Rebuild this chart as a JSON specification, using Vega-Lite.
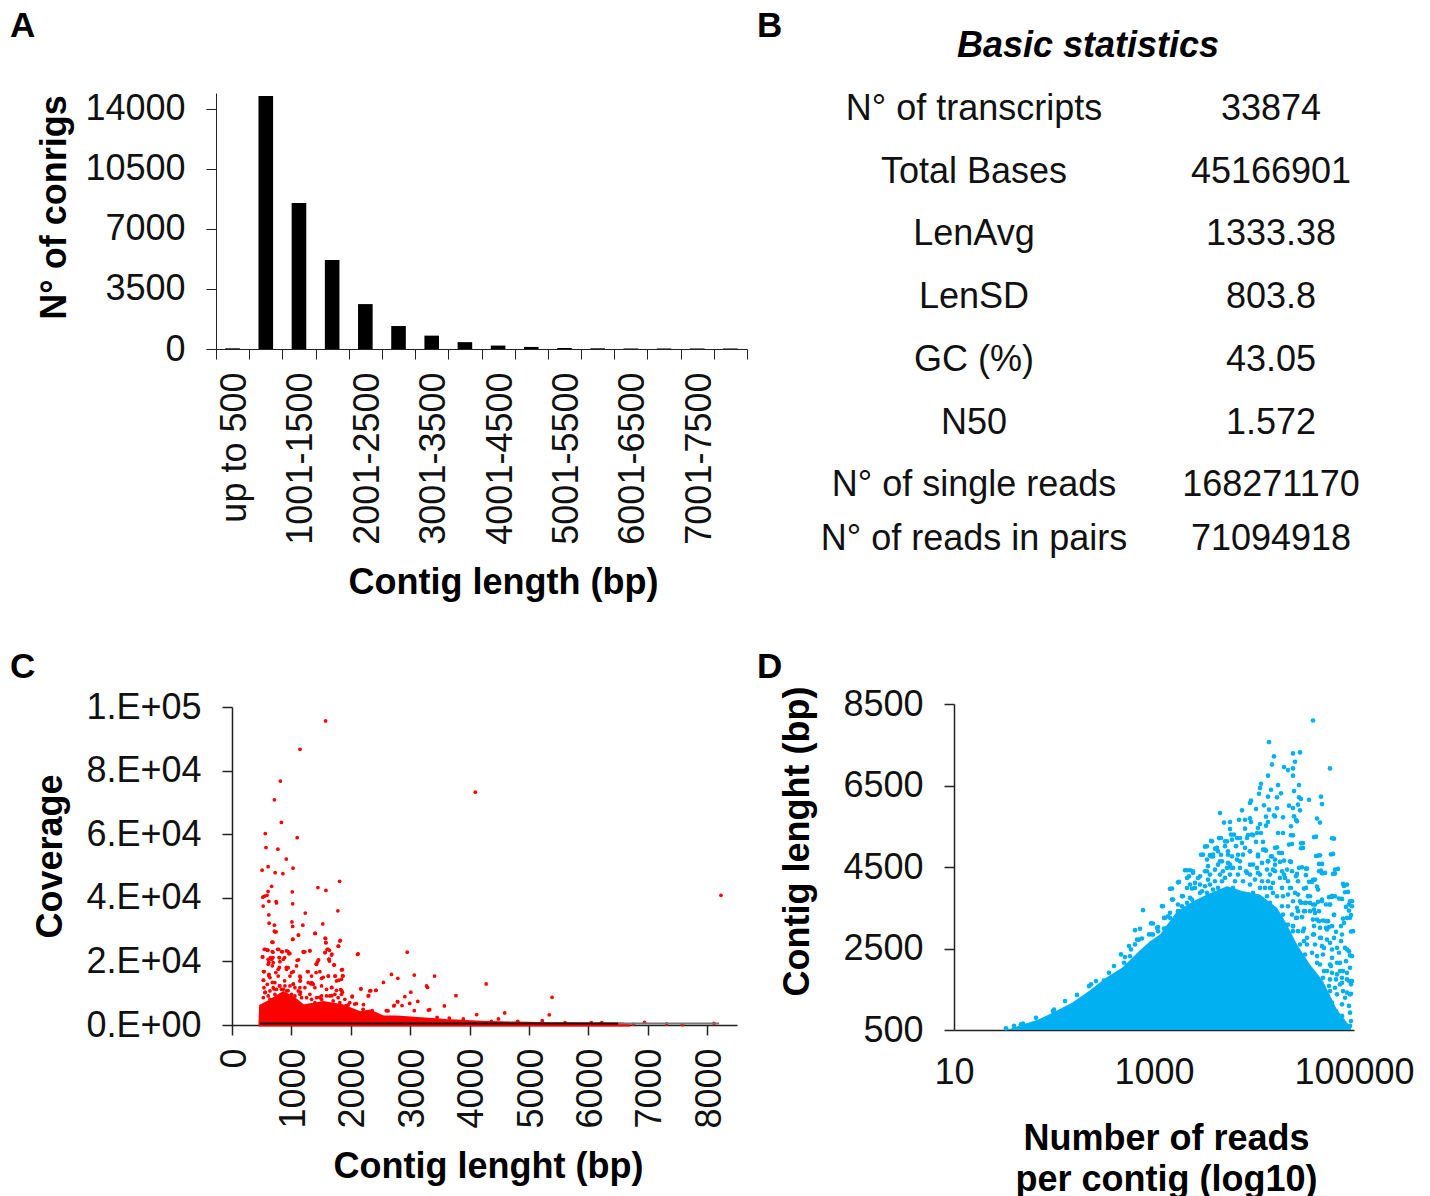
{"$schema":"https://vega.github.io/schema/vega-lite/v6.json","background":"white","padding":{"left":10,"top":8,"right":0,"bottom":0},"bounds":"flush","columns":2,"spacing":{"row":355,"column":13},"config":{"view":{"stroke":null},"font":"Liberation Sans","text":{"font":"Liberation Sans"},"title":{"font":"Liberation Sans","fontSize":35,"fontWeight":"bold","anchor":"start","frame":"group","color":"#000"},"axis":{"grid":false,"labelFont":"Liberation Sans","labelFontSize":36,"labelColor":"#111","titleFont":"Liberation Sans","titleFontSize":36,"titleFontWeight":"bold","titleColor":"#000","domainColor":"#222","tickColor":"#222","tickSize":10,"domainWidth":1.5,"tickWidth":1.5,"titleBaseline":"middle","labelOverlap":false,"labelPadding":21,"labelFlush":false}},
"datasets":{
"coreC":[{"l":470,"c":0},{"l":482,"c":5983},{"l":639,"c":7555},{"l":863,"c":10175},{"l":1031,"c":8600},{"l":1199,"c":5983},{"l":1535,"c":7030},{"l":1871,"c":5983},{"l":2151,"c":3887},{"l":2319,"c":4411},{"l":2543,"c":2525},{"l":2767,"c":2525},{"l":3009,"c":2200},{"l":3599,"c":1400},{"l":4189,"c":900},{"l":4779,"c":600},{"l":5369,"c":400},{"l":6549,"c":300},{"l":6700,"c":0}],
"coreD":[{"r":1.52,"l":500},{"r":1.85,"l":761},{"r":2.02,"l":965},{"r":2.18,"l":1170},{"r":2.35,"l":1455},{"r":2.52,"l":1782},{"r":2.68,"l":2027},{"r":2.85,"l":2435},{"r":2.96,"l":2680},{"r":3.06,"l":2843},{"r":3.23,"l":3415},{"r":3.39,"l":3660},{"r":3.53,"l":3823},{"r":3.73,"l":4027},{"r":3.89,"l":3905},{"r":4.06,"l":3823},{"r":4.23,"l":3497},{"r":4.33,"l":3088},{"r":4.43,"l":2598},{"r":4.56,"l":2108},{"r":4.69,"l":1700},{"r":4.83,"l":1000},{"r":4.97,"l":557}],
"pointsC":[{"l":1575,"c":95600},{"l":1145,"c":86700},{"l":814,"c":76700},{"l":714,"c":70800},{"l":4095,"c":73200},{"l":832,"c":63700},{"l":560,"c":60200},{"l":1097,"c":58900},{"l":572,"c":55800},{"l":773,"c":55300},{"l":914,"c":52200},{"l":1027,"c":49300},{"l":608,"c":49800},{"l":507,"c":48700},{"l":726,"c":47900},{"l":856,"c":47600},{"l":1811,"c":45200},{"l":667,"c":43600},{"l":1446,"c":43200},{"l":608,"c":42000},{"l":1581,"c":42300},{"l":1015,"c":41900},{"l":8230,"c":40800},{"l":590,"c":40800},{"l":549,"c":40500},{"l":519,"c":40200},{"l":620,"c":38900},{"l":743,"c":38800},{"l":749,"c":38400},{"l":1021,"c":38100},{"l":525,"c":37400},{"l":1782,"c":35900},{"l":1233,"c":35200},{"l":620,"c":34600},{"l":625,"c":32000},{"l":1009,"c":32400},{"l":1528,"c":31800},{"l":1021,"c":31000},{"l":1192,"c":31400},{"l":714,"c":31400},{"l":714,"c":29500},{"l":743,"c":29300},{"l":1404,"c":28800},{"l":1121,"c":28300},{"l":1027,"c":27000},{"l":1575,"c":27200},{"l":1581,"c":25900},{"l":1823,"c":26600},{"l":673,"c":26100},{"l":690,"c":26000},{"l":1794,"c":24800},{"l":2124,"c":22400},{"l":2950,"c":22900},{"l":2684,"c":15900},{"l":3068,"c":15700},{"l":3410,"c":15400},{"l":2791,"c":14700},{"l":2549,"c":13400},{"l":4278,"c":12900},{"l":3275,"c":12300},{"l":3292,"c":11800},{"l":2171,"c":11300},{"l":2336,"c":10800},{"l":2425,"c":10900},{"l":3009,"c":10300},{"l":2301,"c":9200},{"l":2024,"c":9100},{"l":2909,"c":8900},{"l":3770,"c":9200},{"l":5387,"c":8700},{"l":3127,"c":7400},{"l":2791,"c":7300},{"l":2991,"c":6800},{"l":2732,"c":6200},{"l":3575,"c":6000},{"l":3328,"c":4800},{"l":5340,"c":3200},{"l":4590,"c":3800},{"l":4118,"c":3300},{"l":560,"c":23800},{"l":602,"c":23600},{"l":785,"c":23800},{"l":690,"c":22900},{"l":850,"c":23000},{"l":944,"c":23100},{"l":974,"c":22500},{"l":1204,"c":22900},{"l":1227,"c":23000},{"l":1310,"c":23400},{"l":1617,"c":23800},{"l":1569,"c":22800},{"l":1682,"c":22300},{"l":1640,"c":23500},{"l":519,"c":21400},{"l":649,"c":21200},{"l":690,"c":21200},{"l":797,"c":21200},{"l":885,"c":21200},{"l":1121,"c":20500},{"l":1457,"c":20500},{"l":1634,"c":20700},{"l":1640,"c":20100},{"l":1723,"c":18900},{"l":1859,"c":17400},{"l":1434,"c":19700},{"l":1416,"c":19100},{"l":620,"c":19700},{"l":679,"c":18600},{"l":797,"c":18100},{"l":915,"c":18100},{"l":1003,"c":16500},{"l":1151,"c":15000},{"l":1269,"c":16800},{"l":1416,"c":16500},{"l":1623,"c":15400},{"l":1741,"c":15400},{"l":1859,"c":15500},{"l":531,"c":16800},{"l":620,"c":15500},{"l":738,"c":16500},{"l":885,"c":13900},{"l":1033,"c":12900},{"l":1357,"c":13100},{"l":1534,"c":15000},{"l":1800,"c":14100},{"l":531,"c":14100},{"l":679,"c":13400},{"l":797,"c":12300},{"l":1151,"c":13900},{"l":1328,"c":12900},{"l":1682,"c":11800},{"l":1829,"c":11100},{"l":560,"c":10300},{"l":708,"c":11300},{"l":944,"c":10800},{"l":1151,"c":10300},{"l":1475,"c":8700},{"l":1682,"c":9200},{"l":1859,"c":10300},{"l":1918,"c":6100},{"l":2065,"c":6600},{"l":2213,"c":6400},{"l":2360,"c":4500},{"l":2596,"c":4500},{"l":2862,"c":6100},{"l":3068,"c":4500},{"l":3304,"c":4700},{"l":3452,"c":2400},{"l":3658,"c":2200},{"l":3894,"c":1900},{"l":4366,"c":1150},{"l":4484,"c":1900},{"l":4809,"c":1150},{"l":5222,"c":1350},{"l":5605,"c":730},{"l":6048,"c":730},{"l":6225,"c":730},{"l":6944,"c":840},{"l":6756,"c":200},{"l":7316,"c":300},{"l":7581,"c":100},{"l":8113,"c":500},
{"l":510,"c":21400},{"l":543,"c":23800},{"l":599,"c":23500},{"l":678,"c":23100},{"l":678,"c":26100},{"l":722,"c":29250},{"l":767,"c":23800},{"l":834,"c":23100},{"l":918,"c":23300},{"l":958,"c":22400},{"l":1020,"c":26900},{"l":1115,"c":28300},{"l":1395,"c":28800},{"l":1568,"c":27300},{"l":1579,"c":25900},{"l":1815,"c":26400},{"l":1787,"c":24800},{"l":1602,"c":23800},{"l":1563,"c":22750},{"l":1675,"c":22000},{"l":1199,"c":23100},{"l":1311,"c":23300},{"l":2112,"c":22200},{"l":610,"c":20650},{"l":666,"c":20650},{"l":795,"c":21200},{"l":863,"c":20650},{"l":1098,"c":20340},{"l":610,"c":19080},{"l":694,"c":19600},{"l":806,"c":19920},{"l":1087,"c":18560},{"l":946,"c":18030},{"l":1451,"c":20340},{"l":1423,"c":19080},{"l":1630,"c":20650},{"l":1714,"c":18870},{"l":1843,"c":17300},{"l":543,"c":16780},{"l":622,"c":15940},{"l":778,"c":17500},{"l":918,"c":17500},{"l":1031,"c":16780},{"l":1283,"c":16780},{"l":1479,"c":16780},{"l":1871,"c":15400},{"l":1731,"c":15400},{"l":1619,"c":15400},{"l":1339,"c":15400},{"l":1143,"c":15400},{"l":975,"c":15400},{"l":639,"c":14900},{"l":778,"c":15400},{"l":527,"c":14050},{"l":722,"c":13320},{"l":1143,"c":13840},{"l":891,"c":12270},{"l":1031,"c":12800},{"l":1339,"c":13320},{"l":1507,"c":14680},{"l":1759,"c":13840},{"l":1843,"c":14370},{"l":554,"c":10170},{"l":639,"c":10700},{"l":750,"c":11220},{"l":918,"c":10700},{"l":1115,"c":10700},{"l":1227,"c":11750},{"l":1367,"c":12800},{"l":1675,"c":11750},{"l":1759,"c":10910},{"l":1843,"c":10910},{"l":2168,"c":11430},{"l":2319,"c":10700},{"l":2420,"c":10910},{"l":2291,"c":9130},{"l":2022,"c":8810},{"l":1255,"c":8600},{"l":1423,"c":8600},{"l":1591,"c":9130},{"l":1731,"c":9650},{"l":1843,"c":9650},{"l":2784,"c":7340},{"l":2722,"c":5980},{"l":2627,"c":4410},{"l":2095,"c":6720},{"l":2207,"c":4930},{"l":1955,"c":6300},{"l":1143,"c":9650},{"l":1003,"c":9650},
{"l":538,"c":11750},{"l":594,"c":12800},{"l":694,"c":11750},{"l":806,"c":12270},{"l":863,"c":11220},{"l":975,"c":12270},{"l":1059,"c":11750},{"l":1143,"c":11750},{"l":1283,"c":13320},{"l":1395,"c":11750},{"l":1507,"c":12270},{"l":1591,"c":11220},{"l":527,"c":8600},{"l":610,"c":9130},{"l":722,"c":9650},{"l":834,"c":11220},{"l":918,"c":9130},{"l":1059,"c":9130},{"l":1171,"c":8600},{"l":1311,"c":9650},{"l":1507,"c":9130},{"l":1647,"c":9130},{"l":1787,"c":8600},{"l":1899,"c":8080},{"l":639,"c":8080},{"l":806,"c":8080},{"l":1339,"c":8080},{"l":1507,"c":8080},{"l":1703,"c":7550},{"l":1983,"c":7030},{"l":1815,"c":7030},{"l":1395,"c":7030}],
"pointsD":[{"r":4.59,"l":8095},{"r":4.15,"l":7565},{"r":4.20,"l":7213},{"r":4.18,"l":7017},{"r":4.39,"l":7287},{"r":4.46,"l":7311},{"r":4.41,"l":7083},{"r":4.30,"l":6952},{"r":4.34,"l":6878},{"r":4.39,"l":6919},{"r":4.39,"l":6740},{"r":4.14,"l":6740},{"r":4.76,"l":6919},{"r":4.07,"l":6543},{"r":4.06,"l":6437},{"r":4.24,"l":6511},{"r":4.45,"l":6511},{"r":4.17,"l":6396},{"r":4.05,"l":6298},{"r":4.27,"l":6307},{"r":4.40,"l":6364},{"r":4.14,"l":6225},{"r":4.23,"l":6209},{"r":4.45,"l":6209},{"r":4.47,"l":6168},{"r":4.55,"l":6151},{"r":4.67,"l":6225},{"r":4.68,"l":6045},{"r":3.97,"l":6127},{"r":3.96,"l":6070},{"r":4.10,"l":6013},{"r":4.44,"l":6029},{"r":4.35,"l":6004},{"r":4.39,"l":5947},{"r":4.46,"l":5890},{"r":3.88,"l":5890},{"r":4.02,"l":5923},{"r":4.15,"l":5907},{"r":4.23,"l":5939},{"r":3.66,"l":5825},{"r":4.20,"l":5770},{"r":4.21,"l":5740},{"r":4.12,"l":5735},{"r":4.29,"l":5720},{"r":4.40,"l":5745},{"r":4.42,"l":5660},{"r":4.63,"l":5690},{"r":4.66,"l":5590},{"r":3.85,"l":5660},{"r":3.91,"l":5660},{"r":3.96,"l":5695},{"r":3.97,"l":5605},{"r":3.70,"l":5590},{"r":3.76,"l":5605},{"r":4.43,"l":5620},{"r":4.14,"l":5605},{"r":4.12,"l":5515},{"r":4.06,"l":5555},{"r":4.37,"l":5500},{"r":3.76,"l":5430},{"r":4.04,"l":5455},{"r":3.91,"l":5440},{"r":4.07,"l":5335},{"r":4.24,"l":5335},{"r":4.29,"l":5335},{"r":4.37,"l":5280},{"r":4.60,"l":5235},{"r":4.78,"l":5205},{"r":3.94,"l":5280},{"r":3.99,"l":5280},{"r":3.77,"l":5295},{"r":3.65,"l":5210},{"r":3.57,"l":5140},{"r":3.71,"l":5130},{"r":3.83,"l":5210},{"r":3.88,"l":5090},{"r":4.02,"l":5115},{"r":4.09,"l":5115},{"r":4.47,"l":5080},{"r":4.47,"l":4960},{"r":4.35,"l":5050},{"r":3.51,"l":5000},{"r":3.61,"l":4950},{"r":3.71,"l":5010},{"r":3.82,"l":5010},{"r":3.91,"l":4970},{"r":4.09,"l":4925},{"r":4.12,"l":4900},{"r":4.21,"l":4970},{"r":3.47,"l":4800},{"r":3.56,"l":4790},{"r":3.59,"l":4760},{"r":3.67,"l":4800},{"r":3.74,"l":4800},{"r":3.84,"l":4800},{"r":3.96,"l":4885},{"r":4.04,"l":4760},{"r":4.17,"l":4760},{"r":4.25,"l":4850},{"r":4.62,"l":4770},{"r":4.64,"l":4780},{"r":4.77,"l":4810},{"r":3.66,"l":4640},{"r":3.74,"l":4600},{"r":3.86,"l":4640},{"r":3.99,"l":4560},{"r":4.14,"l":4640},{"r":4.30,"l":4655},{"r":4.37,"l":4625},{"r":4.65,"l":4575},{"r":3.54,"l":4520},{"r":3.61,"l":4435},{"r":3.31,"l":4420},{"r":3.36,"l":4420},{"r":3.39,"l":4355},{"r":3.51,"l":4395},{"r":3.77,"l":4480},{"r":3.92,"l":4395},{"r":4.04,"l":4355},{"r":4.19,"l":4435},{"r":4.45,"l":4480},{"r":4.52,"l":4460},{"r":4.65,"l":4395},{"r":4.68,"l":4345},{"r":4.81,"l":4435},{"r":4.79,"l":4330},{"r":4.42,"l":4275},{"r":4.52,"l":4300},{"r":4.59,"l":4185},{"r":4.30,"l":4315},{"r":3.24,"l":4125},{"r":3.33,"l":4230},{"r":3.44,"l":4230},{"r":3.41,"l":4110},{"r":3.54,"l":4190},{"r":4.55,"l":4135},{"r":4.63,"l":4020},{"r":4.89,"l":4085},{"r":4.90,"l":4035},{"r":3.16,"l":3965},{"r":3.33,"l":3985},{"r":3.38,"l":3970},{"r":3.48,"l":3905},{"r":4.17,"l":3985},{"r":4.37,"l":3985},{"r":4.50,"l":3970},{"r":4.91,"l":3880},{"r":3.18,"l":3700},{"r":3.28,"l":3785},{"r":3.36,"l":3740},{"r":4.54,"l":3785},{"r":4.68,"l":3700},{"r":4.75,"l":3760},{"r":4.78,"l":3790},{"r":4.85,"l":3725},{"r":4.96,"l":3660},{"r":4.47,"l":3620},{"r":4.52,"l":3620},{"r":4.59,"l":3580},{"r":4.64,"l":3645},{"r":4.72,"l":3580},{"r":4.76,"l":3580},{"r":4.95,"l":3580},{"r":4.92,"l":3520},{"r":2.89,"l":3440},{"r":3.08,"l":3540},{"r":3.10,"l":3250},{"r":3.14,"l":3290},{"r":4.44,"l":3415},{"r":4.50,"l":3415},{"r":4.60,"l":3455},{"r":4.65,"l":3415},{"r":4.80,"l":3320},{"r":4.97,"l":3320},{"r":4.93,"l":3250},{"r":4.59,"l":3210},{"r":4.65,"l":3170},{"r":4.72,"l":3170},{"r":4.87,"l":3050},{"r":4.90,"l":3130},{"r":2.97,"l":3115},{"r":4.42,"l":3250},{"r":4.39,"l":3050},{"r":4.50,"l":2990},{"r":4.60,"l":3050},{"r":4.72,"l":3005},{"r":4.75,"l":3025},{"r":4.82,"l":2910},{"r":4.97,"l":2915},{"r":2.81,"l":2950},{"r":2.86,"l":2985},{"r":3.04,"l":3025},{"r":3.10,"l":2990},{"r":4.60,"l":2845},{"r":4.67,"l":2760},{"r":4.73,"l":2720},{"r":4.80,"l":2760},{"r":4.87,"l":2680},{"r":4.91,"l":2515},{"r":4.95,"l":2435},{"r":2.95,"l":2845},{"r":2.88,"l":2745},{"r":2.83,"l":2720},{"r":4.50,"l":2680},{"r":2.75,"l":2560},{"r":2.77,"l":2475},{"r":2.81,"l":2600},{"r":2.67,"l":2355},{"r":2.71,"l":2290},{"r":2.76,"l":2310},{"r":2.60,"l":2070},{"r":2.70,"l":2150},{"r":4.70,"l":2515},{"r":4.78,"l":2475},{"r":4.85,"l":2395},{"r":4.96,"l":2330},{"r":4.92,"l":2190},{"r":4.83,"l":2150},{"r":4.77,"l":2070},{"r":4.70,"l":1945},{"r":4.89,"l":1945},{"r":4.95,"l":1700},{"r":4.88,"l":1660},{"r":4.82,"l":1740},{"r":4.75,"l":1580},{"r":4.97,"l":1620},{"r":4.93,"l":1415},{"r":4.97,"l":1390},{"r":4.83,"l":1375},{"r":4.72,"l":1290},{"r":4.78,"l":1170},{"r":4.88,"l":1130},{"r":4.95,"l":1090},{"r":4.70,"l":1005},{"r":4.82,"l":965},{"r":4.96,"l":925},{"r":4.88,"l":845},{"r":4.62,"l":845},{"r":4.73,"l":760},{"r":4.57,"l":720},{"r":4.97,"l":720},{"r":4.67,"l":640},{"r":4.87,"l":575},{"r":4.96,"l":600},{"r":4.50,"l":640},{"r":4.45,"l":560},{"r":1.52,"l":540},{"r":1.60,"l":600},{"r":1.67,"l":640},{"r":1.82,"l":800},{"r":1.99,"l":965},{"r":2.11,"l":1210},{"r":2.23,"l":1360},{"r":2.37,"l":1620},{"r":2.50,"l":1715},
{"r":2.99,"l":3113},{"r":3.09,"l":3537},{"r":3.18,"l":3970},{"r":3.25,"l":4134},{"r":3.19,"l":3701},{"r":3.33,"l":4420},{"r":3.39,"l":4395},{"r":3.35,"l":4272},{"r":3.36,"l":4068},{"r":3.29,"l":3782},{"r":3.41,"l":3987},{"r":3.38,"l":3701},{"r":3.49,"l":4803},{"r":3.53,"l":5007},{"r":3.58,"l":5130},{"r":3.67,"l":5212},{"r":3.57,"l":4762},{"r":3.53,"l":4681},{"r":3.59,"l":4803},{"r":3.63,"l":4967},{"r":3.64,"l":4885},{"r":3.68,"l":4640},{"r":3.64,"l":4558},{"r":3.53,"l":4395},{"r":3.46,"l":4272},{"r":3.56,"l":4313},{"r":3.51,"l":4027},{"r":3.61,"l":4150},{"r":3.66,"l":4313},{"r":3.73,"l":5130},{"r":3.78,"l":5171},{"r":3.74,"l":4885},{"r":3.80,"l":5293},{"r":3.86,"l":5212},{"r":3.93,"l":5212},{"r":3.98,"l":5293},{"r":4.03,"l":5334},{"r":3.78,"l":4762},{"r":3.76,"l":4558},{"r":3.83,"l":4681},{"r":3.89,"l":4803},{"r":3.96,"l":4885},{"r":4.04,"l":4803},{"r":4.11,"l":4926},{"r":4.18,"l":4762},{"r":4.21,"l":4681},{"r":4.28,"l":4844},{"r":4.23,"l":4983},{"r":4.38,"l":5065},{"r":4.39,"l":5277},{"r":4.49,"l":5089},{"r":4.49,"l":4967},{"r":4.62,"l":5244},{"r":4.80,"l":5195},{"r":4.79,"l":4820},{"r":4.66,"l":4787},{"r":4.68,"l":4575},{"r":4.67,"l":4411},{"r":4.71,"l":4354},{"r":4.81,"l":4338},{"r":4.84,"l":4452},{"r":4.93,"l":4068},{"r":4.94,"l":3889},{"r":4.98,"l":3660},{"r":4.98,"l":3537},{"r":4.95,"l":3431},{"r":4.89,"l":3235},{"r":4.88,"l":3717},{"r":4.81,"l":3782},{"r":4.78,"l":3766},{"r":4.76,"l":3578},{"r":4.68,"l":3660},{"r":4.61,"l":3578},{"r":4.56,"l":3619},{"r":4.46,"l":3660},{"r":4.51,"l":3619},{"r":4.56,"l":3782},{"r":4.64,"l":3946},{"r":4.61,"l":4191},{"r":4.58,"l":4134},{"r":4.53,"l":4460},{"r":4.48,"l":4493},{"r":4.43,"l":4330},{"r":4.36,"l":4640},{"r":4.26,"l":4624},{"r":4.34,"l":4150},{"r":4.44,"l":4150},{"r":4.52,"l":3987},{"r":4.41,"l":3864},{"r":4.44,"l":3823},{"r":4.36,"l":3987},{"r":4.28,"l":3987},{"r":4.19,"l":3864},{"r":4.11,"l":3987},{"r":4.03,"l":3660},{"r":3.96,"l":3456},{"r":4.16,"l":3619},{"r":3.89,"l":3578},{"r":3.84,"l":3578},{"r":3.79,"l":3987},{"r":3.71,"l":4232},{"r":3.96,"l":4313},{"r":4.06,"l":4313},{"r":4.13,"l":4436},{"r":4.21,"l":4395},{"r":3.86,"l":4477},{"r":3.93,"l":4354},{"r":4.51,"l":3415},{"r":4.56,"l":3415},{"r":4.63,"l":3211},{"r":4.69,"l":3186},{"r":4.74,"l":3170},{"r":4.80,"l":3333},{"r":4.88,"l":2843},{"r":4.99,"l":2925},{"r":4.96,"l":3252},{"r":4.43,"l":3252},{"r":4.48,"l":3268},{"r":4.61,"l":3374},{"r":4.66,"l":3007},{"r":4.73,"l":2966},{"r":4.78,"l":3048},{"r":4.59,"l":2843},{"r":4.66,"l":2762},{"r":4.76,"l":2639},{"r":4.83,"l":2517},{"r":4.93,"l":2476},{"r":4.98,"l":2312},{"r":4.53,"l":2598},{"r":4.58,"l":2394},{"r":4.69,"l":2353},{"r":4.78,"l":2272},{"r":4.86,"l":2149},{"r":4.96,"l":2027},{"r":4.63,"l":2149},{"r":4.73,"l":1945},{"r":4.83,"l":1863},{"r":4.93,"l":1904},{"r":4.98,"l":1700},{"r":4.76,"l":1741},{"r":4.86,"l":1618},{"r":4.96,"l":1373},{"r":4.89,"l":1455},{"r":4.39,"l":2925},{"r":4.49,"l":2925},
{"r":3.46,"l":4068},{"r":3.56,"l":4068},{"r":3.64,"l":3987},{"r":3.68,"l":4150},{"r":3.76,"l":4313},{"r":3.81,"l":4150},{"r":3.84,"l":4313},{"r":3.89,"l":4150},{"r":3.96,"l":4068},{"r":4.01,"l":4191},{"r":4.08,"l":4150},{"r":4.14,"l":4150},{"r":4.19,"l":4109},{"r":4.26,"l":4232},{"r":4.31,"l":4232},{"r":4.33,"l":4436},{"r":4.38,"l":4395},{"r":4.16,"l":4313},{"r":4.03,"l":4477},{"r":3.96,"l":4558},{"r":3.79,"l":4477},{"r":3.73,"l":4477},{"r":3.69,"l":4395},{"r":4.08,"l":4599},{"r":4.14,"l":4640},{"r":4.21,"l":4558},{"r":4.28,"l":4395},{"r":3.46,"l":3864},{"r":3.53,"l":3864},{"r":3.59,"l":3946},{"r":3.64,"l":3782},{"r":3.81,"l":3782},{"r":3.88,"l":3782},{"r":3.94,"l":3823},{"r":3.99,"l":3864},{"r":4.06,"l":3987},{"r":4.16,"l":3987},{"r":4.23,"l":3782},{"r":4.29,"l":3782},{"r":4.34,"l":3823},{"r":4.39,"l":3660},{"r":4.43,"l":3497},{"r":4.34,"l":3537},{"r":4.28,"l":3537},{"r":4.23,"l":3333},{"r":4.29,"l":3333},{"r":4.38,"l":3333},{"r":3.33,"l":3619},{"r":3.28,"l":3537},{"r":3.24,"l":3415},{"r":3.16,"l":3252},{"r":3.11,"l":3252},{"r":3.13,"l":3007},{"r":3.04,"l":2925},{"r":2.99,"l":2843},{"r":3.03,"l":3007},{"r":4.13,"l":3782},{"r":4.09,"l":3619},{"r":3.98,"l":3660},{"r":4.34,"l":3088},{"r":4.39,"l":3048},{"r":4.44,"l":2925},{"r":4.53,"l":2762},{"r":4.46,"l":2598},{"r":4.61,"l":2598},{"r":4.68,"l":2557},{"r":4.51,"l":2353},{"r":4.63,"l":2313},{"r":4.66,"l":2108},{"r":4.76,"l":2108},{"r":4.86,"l":1945},{"r":4.78,"l":1904},{"r":4.69,"l":1782},{"r":4.88,"l":1782},{"r":4.93,"l":1741},{"r":4.81,"l":1537},{"r":4.91,"l":1292},{"r":4.76,"l":1455},
{"r":2.35,"l":1578},{"r":2.42,"l":1700},{"r":2.00,"l":1000},{"r":1.69,"l":660},{"r":2.55,"l":1905},{"r":2.85,"l":2720},{"r":2.98,"l":2845},{"r":3.16,"l":3375},{"r":3.24,"l":3580}]
},
"concat":[
{"width":531,"height":256,"title":{"text":"A","dx":-206,"offset":47},
"data":{"values":[{"bin":"up to 500","n":40},{"bin":"501-1000","n":14760},{"bin":"1001-1500","n":8517},{"bin":"1501-2000","n":5190},{"bin":"2001-2500","n":2620},{"bin":"2501-3000","n":1340},{"bin":"3001-3500","n":780},{"bin":"3501-4000","n":400},{"bin":"4001-4500","n":200},{"bin":"4501-5000","n":120},{"bin":"5001-5500","n":60},{"bin":"5501-6000","n":40},{"bin":"6001-6500","n":30},{"bin":"6501-7000","n":30},{"bin":"7001-7500","n":30},{"bin":"7501-8000","n":30}]},
"mark":{"type":"bar","color":"#000","width":{"band":0.44}},
"encoding":{"x":{"field":"bin","type":"nominal","sort":null,"scale":{"paddingInner":0,"paddingOuter":0},"axis":{"title":"Contig length (bp)","titleX":287,"titleY":233,"labelAngle":-90,"labelAlign":"right","labelBaseline":"middle","labelPadding":13,"labelOffset":2,"tickBand":"extent","domainWidth":1,"tickWidth":1,"labelExpr":"indexof(['up to 500','1001-1500','2001-2500','3001-3500','4001-4500','5001-5500','6001-6500','7001-7500'],datum.label)>=0?datum.label:''"}},
"y":{"field":"n","type":"quantitative","scale":{"domain":[0,14933],"nice":false},"axis":{"title":"N° of conrigs","titleX":-162,"titleY":114,"values":[0,3500,7000,10500,14000],"domainWidth":1,"tickWidth":1,"format":"d"}}}},
{"width":660,"height":256,"title":{"text":"B","dx":-3,"offset":-16},
"layer":[
{"data":{"values":[{"stat":"N° of transcripts","col":"Parameter","txt":"N° of transcripts"},{"stat":"N° of transcripts","col":"Value","txt":"33874"},{"stat":"Total Bases","col":"Parameter","txt":"Total Bases"},{"stat":"Total Bases","col":"Value","txt":"45166901"},{"stat":"LenAvg","col":"Parameter","txt":"LenAvg"},{"stat":"LenAvg","col":"Value","txt":"1333.38"},{"stat":"LenSD","col":"Parameter","txt":"LenSD"},{"stat":"LenSD","col":"Value","txt":"803.8"},{"stat":"GC (%)","col":"Parameter","txt":"GC (%)"},{"stat":"GC (%)","col":"Value","txt":"43.05"},{"stat":"N50","col":"Parameter","txt":"N50"},{"stat":"N50","col":"Value","txt":"1.572"},{"stat":"N° of single reads","col":"Parameter","txt":"N° of single reads"},{"stat":"N° of single reads","col":"Value","txt":"168271170"}]},
"mark":{"type":"text","fontSize":36,"baseline":"middle","align":"center","color":"#111"},
"encoding":{"x":{"field":"col","type":"nominal","axis":null,"scale":{"type":"point","domain":["Parameter","Value"],"range":[214,511],"padding":0}},
"y":{"field":"stat","type":"nominal","axis":null,"scale":{"type":"point","domain":["Basic statistics","N° of transcripts","Total Bases","LenAvg","LenSD","GC (%)","N50","N° of single reads","N° of reads in pairs"],"range":[-47,455],"padding":0}},
"text":{"field":"txt"}}},
{"data":{"values":[{"stat":"N° of reads in pairs","col":"Parameter","txt":"N° of reads in pairs"},{"stat":"N° of reads in pairs","col":"Value","txt":"71094918"}]},
"mark":{"type":"text","fontSize":36,"baseline":"middle","align":"center","color":"#111","dy":-9},
"encoding":{"x":{"field":"col","type":"nominal","axis":null},"y":{"field":"stat","type":"nominal","axis":null},"text":{"field":"txt"}}},
{"data":{"values":[{"stat":"Basic statistics","txt":"Basic statistics"}]},
"mark":{"type":"text","fontSize":36,"fontWeight":"bold","fontStyle":"italic","baseline":"middle","align":"center","color":"#000","dx":-2},
"encoding":{"y":{"field":"stat","type":"nominal","axis":null},"text":{"field":"txt"}}}
]},
{"width":531,"height":326,"title":{"text":"C","dx":-206,"offset":4},
"layer":[
{"data":{"name":"coreC"},"mark":{"type":"area","color":"#ff0000","stroke":"#ff0000","strokeWidth":3},
"encoding":{"x":{"field":"l","type":"quantitative","scale":{"domain":[0,8500],"nice":false,"range":[16,521]},"axis":{"title":"Contig lenght (bp)","titleX":272,"titleY":141,"offset":-5,"values":[0,1000,2000,3000,4000,5000,6000,7000,8000],"labelAngle":-90,"labelAlign":"right","labelBaseline":"middle","labelPadding":13,"labelOffset":2,"format":"d"}},
"y":{"field":"c","type":"quantitative","scale":{"domain":[0,100000],"nice":false,"range":[321,3]},"axis":{"title":"Coverage","titleX":-182,"titleY":152,"offset":-16,"values":[0,20000,40000,60000,80000,100000],"labelExpr":"datum.value==100000?'1.E+05':datum.value==0?'0.E+00':(datum.value/10000)+'.E+04'"}}}},
{"data":{"name":"pointsC"},"mark":{"type":"circle","color":"#ff0000","opacity":1,"size":14},
"encoding":{"x":{"field":"l","type":"quantitative"},"y":{"field":"c","type":"quantitative"}}},
{"data":{"values":[{"l":472,"c":450},{"l":6500,"c":450}]},"mark":{"type":"line","color":"#111","strokeWidth":2},"encoding":{"x":{"field":"l","type":"quantitative"},"y":{"field":"c","type":"quantitative"}}},
{"data":{"values":[{"l":6500,"c":450},{"l":8200,"c":450}]},"mark":{"type":"line","color":"#777","strokeWidth":2},"encoding":{"x":{"field":"l","type":"quantitative"},"y":{"field":"c","type":"quantitative"}}}
]},
{"width":594,"height":326,"title":{"text":"D","dx":-3,"offset":1},
"layer":[
{"data":{"name":"coreD"},"mark":{"type":"area","color":"#00b0f0"},
"encoding":{"x":{"field":"r","type":"quantitative","scale":{"domain":[1,5],"nice":false,"range":[194,594]},"axis":{"title":["Number of reads","per contig (log10)"],"titleX":406,"titleY":108,"titleLineHeight":41,"values":[1,3,5],"tickSize":0,"labelPadding":42,"labelBaseline":"middle","labelExpr":"format(pow(10,datum.value),'d')"}},
"y":{"field":"l","type":"quantitative","scale":{"domain":[500,8500],"nice":false,"zero":false},"axis":{"title":"Contig lenght (bp)","titleX":-157,"titleY":137,"offset":-194,"values":[500,2500,4500,6500,8500],"format":"d"}},
"y2":{"datum":500}}},
{"data":{"name":"pointsD"},"mark":{"type":"circle","color":"#00b0f0","opacity":1,"size":22},
"encoding":{"x":{"field":"r","type":"quantitative"},"y":{"field":"l","type":"quantitative"}}}
]}
]}
